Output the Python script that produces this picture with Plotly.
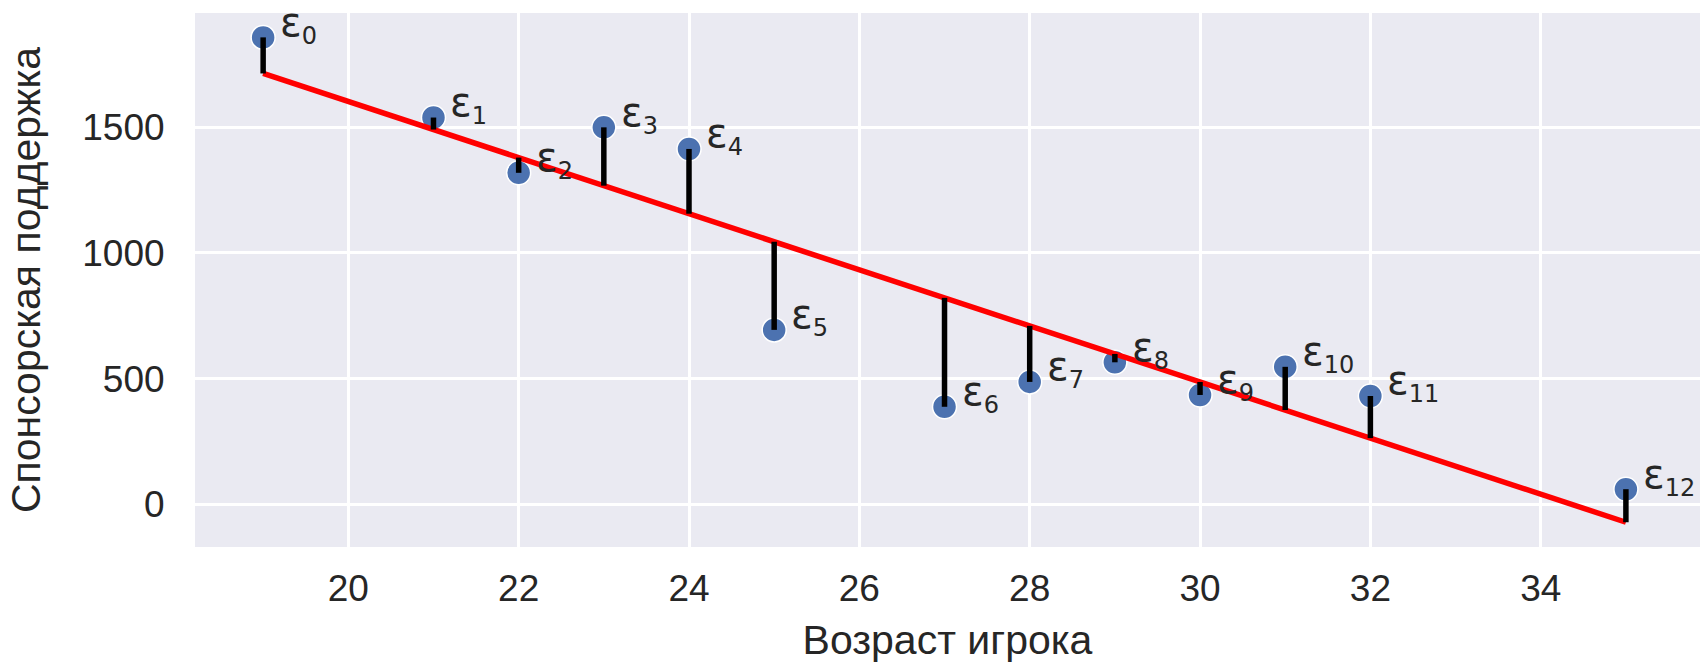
import numpy as np
import plotly.graph_objects as go

# Data
age = [19, 21, 22, 23, 24, 25, 27, 28, 29, 30, 31, 32, 35]
support = [1858, 1539, 1319, 1500, 1414, 694, 388, 487, 565, 435, 547, 431, 60]
labels = [f"ε<sub><span style='font-size:24px'>{i}</span></sub>" for i in range(len(age))]
x_ticks = [20, 22, 24, 26, 28, 30, 32, 34]
y_ticks = [0, 500, 1000, 1500]

# OLS fit
slope, intercept = np.polyfit(age, support, 1)
fitted = [slope * a + intercept for a in age]

# residual segments
rx, ry = [], []
for a, s, f in zip(age, support, fitted):
    rx += [a, a, None]
    ry += [s, f, None]

fig = go.Figure()
fig.add_trace(go.Scatter(
    x=age, y=support, mode="markers",
    marker=dict(size=24, color="#4c72b0", line=dict(color="white", width=1.5)),
    showlegend=False))
fig.add_trace(go.Scatter(
    x=[age[0], age[-1]], y=[fitted[0], fitted[-1]], mode="lines",
    line=dict(color="#ff0000", width=5.5), showlegend=False))
fig.add_trace(go.Scatter(
    x=rx, y=ry, mode="lines",
    line=dict(color="black", width=5.5), showlegend=False))

for a, s, t in zip(age, support, labels):
    fig.add_annotation(x=a, y=s, text=t, showarrow=False,
                       xanchor="left", yanchor="middle", xshift=15, yshift=13,
                       font=dict(family="DejaVu Sans", size=40, color="#262626"))

fig.update_layout(
    width=1700, height=663,
    margin=dict(l=195, r=0, t=13, b=116),
    paper_bgcolor="white", plot_bgcolor="#eaeaf2",
    font=dict(family="Liberation Sans, Arial", color="#262626"),
)
fig.update_xaxes(
    range=[18.2, 35.87], tickvals=x_ticks, showgrid=True, gridcolor="white", gridwidth=2.5,
    zeroline=False, showline=False, tickfont=dict(size=37),
    ticks="outside", ticklen=9, tickcolor="rgba(0,0,0,0)",
    title=dict(text="Возраст игрока", font=dict(size=41), standoff=18))
fig.update_yaxes(
    range=[-170, 1955], tickvals=y_ticks, showgrid=True, gridcolor="white", gridwidth=2.5,
    zeroline=False, showline=False, tickfont=dict(size=37),
    ticks="outside", ticklen=22, tickcolor="rgba(0,0,0,0)",
    title=dict(text="Спонсорская поддержка", font=dict(size=41), standoff=28))

fig.write_html("out.html", config={"displayModeBar": False},
               post_script="document.body.style.margin='0';document.body.style.overflow='hidden';")
